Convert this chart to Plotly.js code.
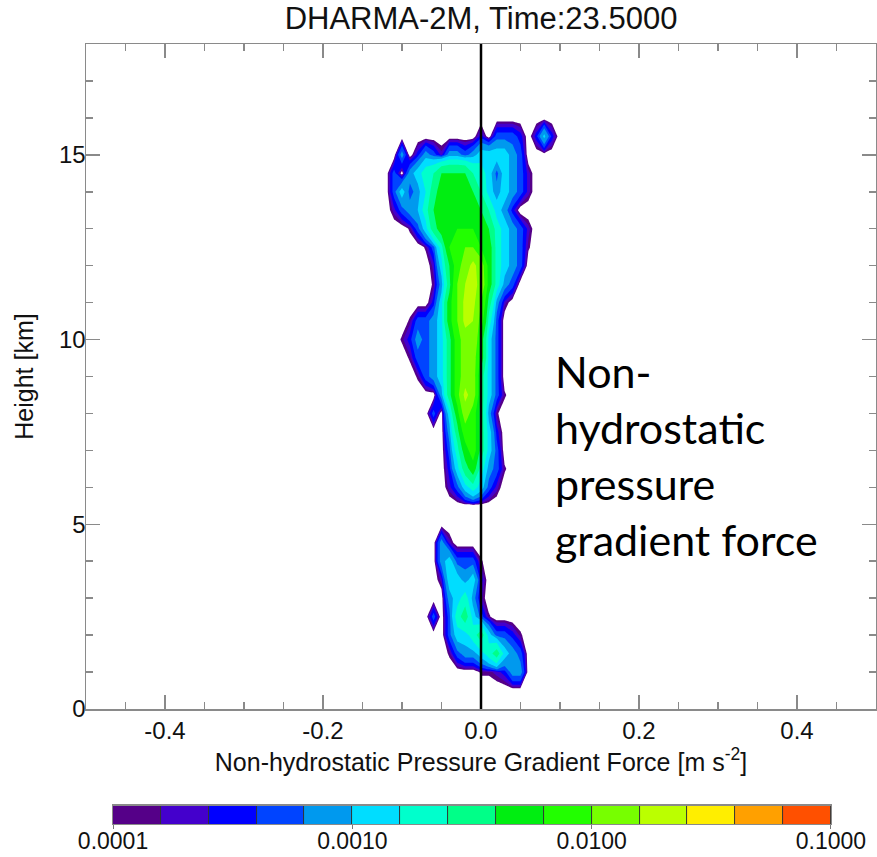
<!DOCTYPE html>
<html><head><meta charset="utf-8">
<script src="https://cdn.plot.ly/plotly-3.0.1.min.js"></script>
<style>html,body{margin:0;padding:0;background:#fff;} #chart{width:877px;height:857px;}</style>
</head><body><div id="chart"></div>
<script>
const _ = null;
// horizontal bins of the force [m s^-2]
const xBins = [-0.12,-0.11,-0.10,-0.09,-0.08,-0.07,-0.06,-0.05,-0.04,-0.03,-0.02,-0.01,0.00,0.01,0.02,0.03,0.04,0.05,0.06,0.07,0.08,0.09,0.10];
// heights [km], top to bottom
const heights = [16.0,15.5,15.0,14.5,14.0,13.5,13.0,12.5,12.0,11.5,11.0,10.5,10.0,9.5,9.0,8.5,8.0,7.5,7.0,6.5,6.0,5.5,5.0,4.5,4.0,3.5,3.0,2.5,2.0,1.5,1.0,0.5,0.0];
// log10 of the frequency, one row per height (null = no samples)
const logFreq = [
[_,_,_,_,_,_,_,_,_,_,_,_,_,_,_,_,_,_,_,_,_,_,_],
[_,_,_,_,_,_,_,_,_,_,_,_,-3.5,_,-3.3,-3.3,-3.3,-3.5,_,-3.5,-2.95,-3.5,_],
[_,_,-3.1,_,-3.5,-3.1,-3.3,-3.7,-3.1,-3.1,-3.3,-3.1,-2.9,-2.9,-2.9,-2.9,-3.1,-3.3,_,_,_,_,_],
[_,-3.3,_,-3.1,-2.9,-2.7,-2.6,-2.4,-2.4,-2.4,-2.4,-2.6,-2.7,-2.9,-3.3,-2.9,-3.1,-3.3,-3.7,_,_,_,_],
[_,-3.3,-2.9,-3.3,-3.1,-2.8,-2.5,-2.3,-2.2,-2.2,-2.2,-2.4,-2.6,-2.9,-3.1,-2.9,-3.1,-3.3,-3.7,_,_,_,_],
[_,-3.7,-3.3,-3.1,-3.0,-2.7,-2.4,-2.25,-2.25,-2.25,-2.25,-2.25,-2.4,-2.6,-2.9,-3.1,-3.5,_,_,_,_,_,_],
[_,_,_,-3.9,-3.3,-2.9,-2.5,-2.3,-2.2,-2.2,-2.2,-2.2,-2.2,-2.4,-2.7,-2.9,-3.1,-3.3,-3.7,_,_,_,_],
[_,_,_,_,_,-3.9,-3.3,-2.7,-2.2,-2.1,-2.0,-2.0,-2.2,-2.3,-2.7,-2.9,-3.1,-3.3,-3.9,_,_,_,_],
[_,_,_,_,_,_,-3.7,-2.9,-2.4,-2.1,-1.9,-1.75,-1.9,-2.3,-2.7,-2.9,-3.1,-3.3,_,_,_,_,_],
[_,_,_,_,_,_,-3.9,-3.1,-2.5,-2.0,-1.8,-1.75,-1.85,-2.3,-2.7,-3.1,-3.3,_,_,_,_,_,_],
[_,_,_,_,_,_,-3.5,-2.9,-2.3,-2.0,-1.75,-1.75,-2.0,-2.5,-3.1,-3.7,_,_,_,_,_,_,_],
[_,_,_,-3.9,-3.3,-3.3,-3.1,-2.9,-2.3,-2.0,-1.75,-1.8,-2.1,-2.7,-3.3,_,_,_,_,_,_,_,_],
[_,_,-3.9,-3.5,-3.1,-3.3,-3.1,-2.9,-2.5,-2.1,-1.9,-1.8,-2.3,-2.9,-3.3,_,_,_,_,_,_,_,_],
[_,_,_,-3.9,-3.3,-3.3,-3.1,-2.9,-2.5,-2.1,-1.9,-1.9,-2.3,-2.9,-3.3,_,_,_,_,_,_,_,_],
[_,_,_,_,-3.9,-3.3,-3.1,-2.9,-2.5,-2.1,-1.9,-1.9,-2.5,-2.9,-3.3,_,_,_,_,_,_,_,_],
[_,_,_,_,_,_,_,-3.1,-2.5,-2.1,-1.75,-1.9,-2.5,-2.9,-3.3,-3.9,_,_,_,_,_,_,_],
[_,_,_,_,_,_,-3.3,_,-2.9,-2.3,-1.9,-2.1,-2.5,-3.1,-3.9,_,_,_,_,_,_,_,_],
[_,_,_,_,_,_,_,_,-3.1,-2.5,-2.1,-2.1,-2.5,-2.9,-3.5,_,_,_,_,_,_,_,_],
[_,_,_,_,_,_,_,_,-3.3,-2.7,-2.3,-2.1,-2.5,-2.9,-3.3,_,_,_,_,_,_,_,_],
[_,_,_,_,_,_,_,_,-3.5,-2.9,-2.5,-2.3,-2.7,-3.1,-3.3,-3.9,_,_,_,_,_,_,_],
[_,_,_,_,_,_,_,_,-3.7,-3.3,-2.9,-2.7,-2.9,-3.3,-3.7,_,_,_,_,_,_,_,_],
[_,_,_,_,_,_,_,_,_,_,_,_,_,_,_,_,_,_,_,_,_,_,_],
[_,_,_,_,_,_,_,_,_,_,_,_,_,_,_,_,_,_,_,_,_,_,_],
[_,_,_,_,_,_,_,-3.1,-3.7,_,_,_,_,_,_,_,_,_,_,_,_,_,_],
[_,_,_,_,_,_,_,-3.1,-2.9,-3.3,-3.3,-3.3,-3.9,_,_,_,_,_,_,_,_,_,_],
[_,_,_,_,_,_,_,-3.7,-2.9,-2.9,-3.1,-2.9,-3.5,_,_,_,_,_,_,_,_,_,_],
[_,_,_,_,_,_,_,_,-3.1,-2.9,-2.7,-3.1,-3.7,_,_,_,_,_,_,_,_,_,_],
[_,_,_,_,_,_,-3.3,_,-3.3,-2.7,-2.5,-2.9,-3.3,-3.9,_,_,_,_,_,_,_,_,_],
[_,_,_,_,_,_,_,_,-3.3,-2.9,-2.9,-2.7,-2.5,-2.9,-3.3,-3.3,-3.5,-3.9,_,_,_,_,_],
[_,_,_,_,_,_,_,_,-3.9,-3.3,-3.1,-3.1,-2.9,-2.7,-2.5,-2.9,-3.1,-3.3,_,_,_,_,_],
[_,_,_,_,_,_,_,_,_,_,_,_,-3.9,-3.9,-3.7,-3.5,-3.1,-3.1,_,_,_,_,_],
[_,_,_,_,_,_,_,_,_,_,_,_,_,_,_,_,_,_,_,_,_,_,_],
[_,_,_,_,_,_,_,_,_,_,_,_,_,_,_,_,_,_,_,_,_,_,_]
];
// contour levels (log10 of the frequency) and their colours
const levelExponents = [-4.0,-3.8,-3.6,-3.4,-3.2,-3.0,-2.8,-2.6,-2.4,-2.2,-2.0,-1.8,-1.6,-1.4,-1.2];
const levelColors = ["#550088","#4400cc","#0000ff","#0044ff","#0099ee","#00ddff","#00ffcc","#00ff88","#00ee11","#22ff00","#77ff00","#bbff00","#ffee00","#ffa000","#ff5000"];
const cbCenters = [-3.9,-3.7,-3.5,-3.3,-3.1,-2.9,-2.7,-2.5,-2.3,-2.1,-1.9,-1.7,-1.5,-1.3,-1.1];
const cbTickVals = [-4,-3,-2,-1];
const cbTickText = ["0.0001","0.0010","0.0100","0.1000"];
const xTickVals = [-0.4,-0.2,0,0.2,0.4];
const xTickText = ["-0.4","-0.2","0.0","0.2","0.4"];
const yTickVals = [0,5,10,15];
const yTickText = ["0","5","10","15"];

// frequencies (linear), empty bins = 0; contoured in linear space at log-spaced levels
const yAsc = heights.slice().reverse();
const freqAsc = logFreq.slice().reverse().map(r => r.map(v => v === null ? 0 : Math.pow(10, v)));

const traces = levelExponents.map((e, i) => {
  const lev = Math.pow(10, e);
  return {
    type: "contour", x: xBins, y: yAsc, z: freqAsc,
    autocontour: false,
    contours: {start: lev, end: lev, size: 1, coloring: "fill", showlines: false},
    line: {width: 0, smoothing: 0},
    colorscale: [[0, "rgba(255,255,255,0)"], [1, levelColors[i]]],
    showscale: false, hoverinfo: "skip", xaxis: "x", yaxis: "y"
  };
});

const barScale = [];
levelColors.forEach((c, i) => {
  barScale.push([i / levelColors.length, c]);
  barScale.push([(i + 1) / levelColors.length, c]);
});
traces.push({
  type: "heatmap", x: cbCenters, y: [0], z: [cbCenters],
  zmin: cbTickVals[0], zmax: cbTickVals[cbTickVals.length - 1], colorscale: barScale, showscale: false,
  xgap: 1, hoverinfo: "skip", xaxis: "x2", yaxis: "y2"
});

const font = "Liberation Sans, Arial, sans-serif";
const axisCommon = {
  showline: true, linecolor: "#8a8a8a", linewidth: 1.5, mirror: "ticks",
  ticks: "inside", ticklen: 14, tickwidth: 1.5, tickcolor: "#8a8a8a",
  showgrid: false, zeroline: false, tickmode: "array",
  tickfont: {family: font, size: 24, color: "#111"}
};

const layout = {
  width: 877, height: 857,
  margin: {l: 86, r: 1, t: 44, b: 20},
  paper_bgcolor: "#fff", plot_bgcolor: "#fff",
  showlegend: false,
  title: {text: "DHARMA-2M, Time:23.5000", x: 0.5485, xanchor: "center", y: 0.979, yanchor: "middle",
          font: {family: font, size: 31, color: "#111"}},
  xaxis: Object.assign({}, axisCommon, {
    domain: [0, 1], anchor: "y", range: [-0.5, 0.5],
    tickvals: xTickVals, ticktext: xTickText,
    minor: {ticks: "inside", ticklen: 7, tickwidth: 1.5, tickcolor: "#8a8a8a", tickmode: "linear", tick0: 0, dtick: 0.05},
    title: {text: "Non-hydrostatic Pressure Gradient Force [m s<sup>-2</sup>]", standoff: 4,
            font: {family: font, size: 25, color: "#111"}}
  }),
  yaxis: Object.assign({}, axisCommon, {
    domain: [0.1614, 1], anchor: "x", range: [0, 18],
    tickvals: yTickVals, ticktext: yTickText, ticklabelstandoff: -6,
    minor: {ticks: "inside", ticklen: 7, tickwidth: 1.5, tickcolor: "#8a8a8a", tickmode: "linear", tick0: 0, dtick: 1},
    title: {text: "Height [km]", standoff: 18, font: {family: font, size: 25, color: "#111"}}
  }),
  xaxis2: {
    domain: [0.0342, 0.943], anchor: "y2", range: [cbTickVals[0], cbTickVals[cbTickVals.length - 1]],
    tickmode: "array", tickvals: cbTickVals, ticktext: cbTickText,
    ticks: "outside", ticklen: 4, tickcolor: "#777", tickwidth: 1, ticklabelstandoff: -8,
    showline: true, mirror: true, linecolor: "#8a8a8a", linewidth: 1.5,
    showgrid: false, zeroline: false,
    tickfont: {family: font, size: 23, color: "#111"}
  },
  yaxis2: {
    domain: [0.0164, 0.0391], anchor: "x2", range: [-0.5, 0.5],
    showticklabels: false, ticks: "", showline: true, mirror: true, linecolor: "#8a8a8a", linewidth: 1.5,
    showgrid: false, zeroline: false
  },
  shapes: [
    {type: "line", xref: "x", yref: "y domain", x0: 0, x1: 0, y0: 0, y1: 1,
     line: {color: "#000", width: 2.5}, layer: "above"},
    {type: "rect", xref: "x2", yref: "y2", x0: cbTickVals[0], x1: cbTickVals[cbTickVals.length - 1], y0: -0.5, y1: 0.5,
     fillcolor: "#333", line: {width: 0}, layer: "below"}
  ],
  annotations: [
    {text: "Non-<br>hydrostatic<br>pressure<br>gradient force", xref: "x", yref: "y",
     x: 0.0911, y: 6.86, xanchor: "left", yanchor: "middle", align: "left", showarrow: false,
     font: {family: "Lato, Open Sans, sans-serif", size: 43, color: "#000"}}
  ]
};

Plotly.newPlot("chart", traces, layout, {displayModeBar: false, staticPlot: true});
</script>
</body></html>
